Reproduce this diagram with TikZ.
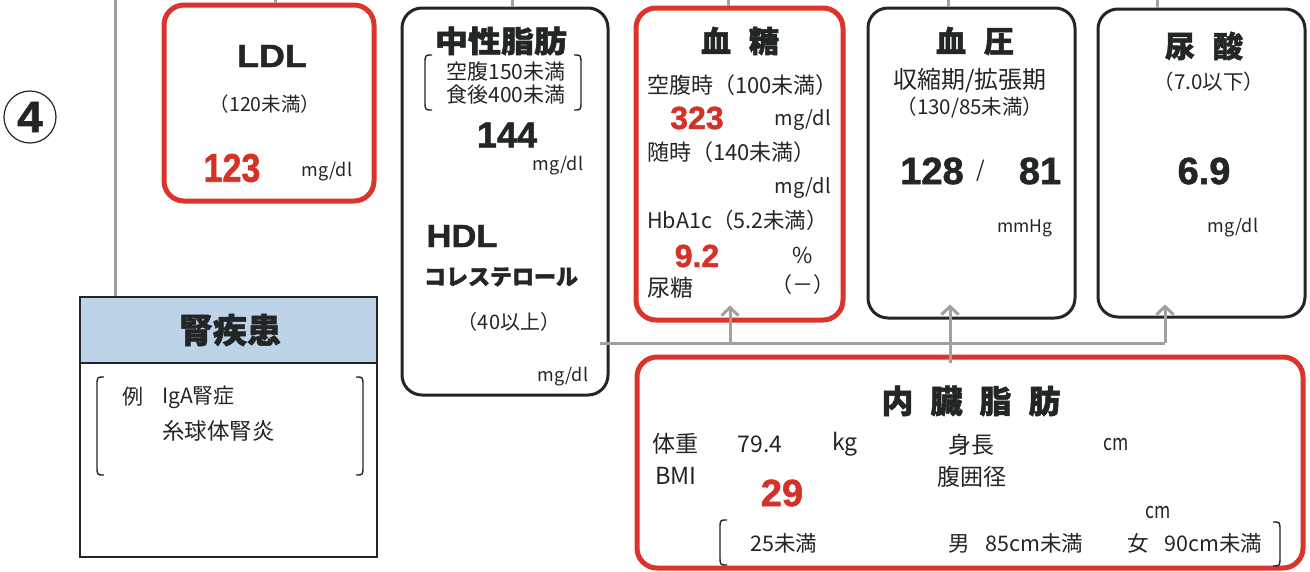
\documentclass[tikz,border=0pt]{standalone}
\usepackage{fontspec}
\setmainfont{Noto Sans CJK JP}
\newfontfamily\latn{Liberation Sans}
\newfontfamily\heavy{Noto Sans CJK JP}[BoldFeatures={FakeBold=1.6}]
\newfontfamily\latnheavy{Liberation Sans}[BoldFeatures={FakeBold=1.4}]
\usetikzlibrary{arrows.meta,calc}
\definecolor{bred}{RGB}{218,52,45}
\definecolor{tred}{RGB}{212,50,40}
\definecolor{ink}{RGB}{35,38,38}
\definecolor{conn}{RGB}{160,160,160}
\definecolor{hdr}{RGB}{188,211,232}
\newcommand{\myfs}[1]{\fontsize{#1}{#1}\selectfont}
\newcommand{\myhx}[2]{\scalebox{#1}[1]{#2}}
\newcommand{\lbrk}[3]{\draw[brk] (#1+7,#2) .. controls (#1,#2) .. (#1,#2+9) -- (#1,#3-9) .. controls (#1,#3) .. (#1+7,#3);}
\newcommand{\rbrk}[3]{\draw[brk] (#1-7,#2) .. controls (#1,#2) .. (#1,#2+9) -- (#1,#3-9) .. controls (#1,#3) .. (#1-7,#3);}
\begin{document}
\begin{tikzpicture}[x=1pt,y=-1pt,
  redbox/.style={draw=bred, line width=5pt, rounded corners=20pt, inner sep=0pt, fill=white},
  blkbox/.style={draw=ink, line width=3pt, rounded corners=20pt, inner sep=0pt, fill=white},
  txt/.style={inner sep=0pt, text=ink},
  rtxt/.style={inner sep=0pt, text=tred},
  link/.style={draw=conn, line width=3pt},
  uparrow/.style={link, -{Straight Barb[length=8pt,width=17pt]}},
  brk/.style={draw=ink, line width=1.4pt},
]
\useasboundingbox (0,0) rectangle (1310,571);
\fill[white] (0,0) rectangle (1310,571);

% boxes
\node[redbox, minimum width=210pt, minimum height=196pt] (ldl) at (269,103) {};
\node[blkbox, minimum width=206pt, minimum height=387pt] (tg) at (505,201.5) {};
\node[redbox, minimum width=207pt, minimum height=312pt] (sugar) at (739.5,164) {};
\node[blkbox, minimum width=207pt, minimum height=310pt] (bp) at (971.5,163) {};
\node[blkbox, minimum width=207pt, minimum height=308pt] (ua) at (1201.5,163) {};
\node[redbox, minimum width=666pt, minimum height=211pt] (vf) at (970,462.5) {};
\node[draw=ink, line width=2.5pt, fill=white, minimum width=297pt, minimum height=260pt, inner sep=0pt] (kd) at (228.5,427) {};
\node[draw=ink, line width=2.5pt, fill=hdr, minimum width=297pt, minimum height=66pt, inner sep=0pt, anchor=north] (kdh) at (kd.north) {};

% circled number
\node[circle, draw=ink, line width=1.2pt, minimum size=52pt, inner sep=0pt, text=ink] (num) at (30,117) {\latnheavy\bfseries\myfs{44}\myhx{1.05}{4}};

% connectors from above
\coordinate (t0) at (115,0);
\coordinate (t1) at (275,0);
\coordinate (t2) at (512,0);
\coordinate (t3) at (728,0);
\coordinate (t4) at (948,0);
\coordinate (t5) at (1157,0);
\draw[link] (t0) -- (kdh.north -| t0);
\draw[link] (t1) -- (ldl.north -| t1);
\draw[link] (t2) -- (tg.north -| t2);
\draw[link] (t3) -- (sugar.north -| t3);
\draw[link] (t4) -- (bp.north -| t4);
\draw[link] (t5) -- (ua.north -| t5);

% bottom connector network
\coordinate (hs) at (600,343);
\coordinate (hc) at (1165,343);
\coordinate (h1) at (730,343);
\coordinate (h2) at (950,343);
\draw[link] (hs) -- (hc);
\draw[uparrow] (h1) -- ($(sugar.south -| h1)+(0,-17)$);
\draw[uparrow] (hc) -- ($(ua.south -| hc)+(0,-14)$);
\draw[uparrow] ($(vf.north -| h2)+(0,8)$) -- ($(bp.south -| h2)+(0,-15)$);

% LDL
\node[txt] (ldlT) at (272,56) {\latnheavy\bfseries\myfs{32}\myhx{1.12}{LDL}};
\node[txt] (ldlR) at (265,104) {\myfs{19.5}（120未満）};
\node[rtxt] (ldlV) at (232,168) {\latnheavy\bfseries\myfs{40}\myhx{0.85}{123}};
\node[txt] (ldlU) at (327,172) {\myfs{18}mg/dl};

% triglycerides / HDL
\node[txt] (tgT) at (501,41) {\heavy\bfseries\myfs{30}\myhx{1.1}{中性脂肪}};
\lbrk{425}{55}{110}
\rbrk{581}{55}{110}
\node[txt] (tgR1) at (506,72) {\myfs{21}空腹150未満};
\node[txt] (tgR2) at (506,95) {\myfs{21}食後400未満};
\node[txt] (tgV) at (507,135) {\latnheavy\bfseries\myfs{36}144};
\node[txt] (tgU) at (558,166) {\myfs{18}mg/dl};
\node[txt] (hdlT) at (462,236) {\latnheavy\bfseries\myfs{32}\myhx{1.08}{HDL}};
\node[txt] (hdlT2) at (501,277) {\heavy\bfseries\myfs{22}コレステロール};
\node[txt] (hdlR) at (509,322) {\myfs{20}（40以上）};
\node[txt] (hdlU) at (563,377) {\myfs{18}mg/dl};

% blood sugar
\node[txt] (sgT) at (740,41) {\heavy\bfseries\myfs{30}血\hspace{18pt}糖};
\node[txt, anchor=west] (sg1) at (647,85) {\myfs{22}空腹時（100未満）};
\node[rtxt] (sg1v) at (697,118) {\latnheavy\bfseries\myfs{32}323};
\node[txt] (sg1u) at (803,120) {\myfs{20}mg/dl};
\node[txt, anchor=west] (sg2) at (647,152) {\myfs{22}随時（140未満）};
\node[txt] (sg2u) at (803,188) {\myfs{20}mg/dl};
\node[txt, anchor=west] (sg3) at (647,220) {\myfs{21.5}HbA1c（5.2未満）};
\node[rtxt] (sg3v) at (697,256) {\latnheavy\bfseries\myfs{32}9.2};
\node[txt] (sg3u) at (803,255) {\myfs{22}\%};
\node[txt, anchor=west] (sg4) at (647,288) {\myfs{23}尿糖};
\node[txt] (sg4v) at (803,285) {\myfs{21}（－）};

% blood pressure
\node[txt] (bpT) at (975,41) {\heavy\bfseries\myfs{30}血\hspace{18pt}圧};
\node[txt] (bp1) at (970,81) {\myfs{24}収縮期/拡張期};
\node[txt] (bp2) at (970,108) {\myfs{20.5}（130/85未満）};
\node[txt] (bpV1) at (932,171) {\latnheavy\bfseries\myfs{38}128};
\node[txt] (bpS) at (981,171) {\myfs{22}/};
\node[txt] (bpV2) at (1040,171) {\latnheavy\bfseries\myfs{38}81};
\node[txt] (bpU) at (1025,228) {\myfs{17.5}mmHg};

% uric acid
\node[txt] (uaT) at (1204,46) {\heavy\bfseries\myfs{30}尿\hspace{18pt}酸};
\node[txt] (uaR) at (1209,82) {\myfs{20.5}（7.0以下）};
\node[txt] (uaV) at (1204,171) {\latnheavy\bfseries\myfs{38}6.9};
\node[txt] (uaU) at (1233,228) {\myfs{18}mg/dl};

% kidney disease
\node[txt] (kdT) at (230,330) {\heavy\bfseries\myfs{34}腎疾患};
\lbrk{97}{377}{475}
\rbrk{363}{377}{475}
\node[txt] (kdE) at (133,397) {\myfs{21}例};
\node[txt, anchor=west] (kd1) at (162,397) {\myfs{21}IgA腎症};
\node[txt, anchor=west] (kd2) at (162,431) {\myfs{22.5}糸球体腎炎};

% visceral fat
\node[txt] (vfT) at (971,401) {\heavy\bfseries\myfs{32}内\hspace{17pt}臓\hspace{17pt}脂\hspace{17pt}肪};
\node[txt] (vfW) at (675,444) {\myfs{23}体重};
\node[txt] (vfWv) at (760,444) {\myfs{23}79.4};
\node[txt] (vfWu) at (845,444) {\myfs{23}kg};
\node[txt] (vfH) at (971,445) {\myfs{23}身長};
\node[txt] (vfHu) at (1116,445) {\myfs{22}\myhx{0.8}{cm}};
\node[txt] (vfB) at (676,476) {\myfs{23.5}BMI};
\node[txt] (vfA) at (972,477) {\myfs{23}腹囲径};
\node[rtxt] (vfBv) at (782,493) {\latnheavy\bfseries\myfs{38}29};
\node[txt] (vfAu) at (1158,513) {\myfs{22}\myhx{0.8}{cm}};
\lbrk{720}{520}{565}
\rbrk{1280}{522}{566}
\node[txt] (vfR1) at (784,543) {\myfs{21.5}25未満};
\node[txt, anchor=west] (vfR2) at (948,543) {\myfs{21.5}男\hspace{16pt}85cm未満};
\node[txt, anchor=west] (vfR3) at (1127,543) {\myfs{21.5}女\hspace{16pt}90cm未満};
\end{tikzpicture}
\end{document}
